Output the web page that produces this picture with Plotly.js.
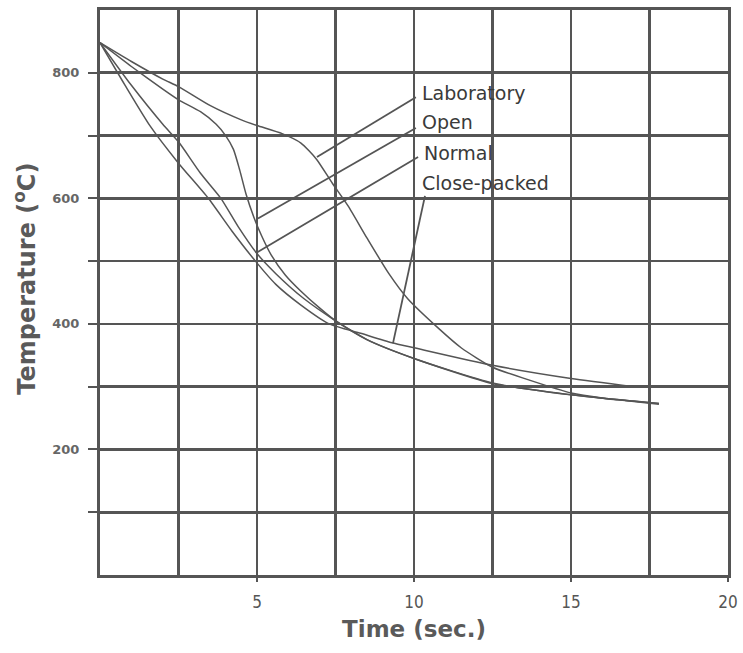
<!DOCTYPE html>
<html>
<head>
<meta charset="utf-8">
<script src="https://cdn.plot.ly/plotly-3.0.1.min.js"></script>
<style>html,body{margin:0;padding:0;background:#fff;}#chart{width:743px;height:653px;}</style>
</head>
<body>
<div id="chart"></div>
<script>
// Cooling curves: time (s) vs temperature (°C)
const labT = [0, 1, 2, 2.5, 3.5, 4.5, 5, 5.8, 6.4, 6.9, 7.4, 7.9, 8.5, 9.2, 9.8, 10.8, 11.5, 12.5, 13.7, 15, 16, 17, 17.8];
const labY = [848, 818, 790, 778, 748, 725, 716, 703, 688, 662, 624, 588, 537, 480, 440, 392, 362, 331, 310, 290, 282, 277, 273];

const openT = [0, 1, 2, 2.5, 3.2, 3.7, 4.0, 4.25, 4.45, 4.65, 4.9, 5.15, 5.45, 5.9, 6.4, 7, 7.5, 8.5, 10, 12.5, 15, 16.5, 17.8];
const openY = [848, 810, 774, 757, 738, 718, 700, 678, 645, 607, 570, 540, 510, 478, 452, 425, 405, 375, 345, 305, 287, 279, 272];

const normT = [0, 1, 2, 2.5, 3.2, 3.85, 4.4, 5, 5.6, 6.5, 7.5, 8.5, 10, 12.5, 15, 17.8];
const normY = [848, 780, 718, 690, 640, 600, 555, 512, 480, 440, 405, 375, 345, 306, 287, 273];

const closeT = [0, 0.8, 1.6, 2.5, 3.45, 4.2, 4.95, 5.6, 6.4, 7.3, 8.3, 9.3, 10, 12.5, 15, 17];
const closeY = [848, 780, 715, 656, 600, 548, 500, 463, 430, 400, 385, 370, 362, 334, 313, 300];

// Curve labels and leader lines
const labelNames = ["Laboratory", "Open", "Normal", "Close-packed"];
const labelX = [10.2, 10.2, 10.25, 10.2];
const labelY = [768, 721, 673, 624];
const leaderFromX = [10.06, 10.06, 10.13, 10.35];
const leaderFromY = [761, 712, 666, 604];
const leaderToX = [6.91, 5.03, 4.97, 9.33];
const leaderToY = [666, 568, 513, 369];

const xTicks = [5, 10, 15, 20];
const yTicks = [200, 400, 600, 800];
const yMinor = [100, 300, 500, 700];
const xMinor = [2.5, 7.5, 12.5, 17.5];

const ink = '#555';
const lineStyle = {color: ink, width: 1.5, shape: 'spline', smoothing: 0.6};

const traces = [
  {x: labT, y: labY, mode: 'lines', line: lineStyle, name: 'Laboratory'},
  {x: openT, y: openY, mode: 'lines', line: lineStyle, name: 'Open'},
  {x: normT, y: normY, mode: 'lines', line: lineStyle, name: 'Normal'},
  {x: closeT, y: closeY, mode: 'lines', line: lineStyle, name: 'Close-packed'}
];

const shapes = labelNames.map((n, i) => ({
  type: 'line', xref: 'x', yref: 'y',
  x0: leaderFromX[i], y0: leaderFromY[i], x1: leaderToX[i], y1: leaderToY[i],
  line: {color: ink, width: 1.8}
}));

const annotations = labelNames.map((n, i) => ({
  x: labelX[i], y: labelY[i], xref: 'x', yref: 'y', text: n, showarrow: false,
  xanchor: 'left', yanchor: 'middle',
  font: {family: 'DejaVu Sans', size: 19, color: '#3a3a3a'}
}));
// Y-axis title placed as rotated text
annotations.push({
  xref: 'paper', yref: 'paper', x: -0.119, y: 0.525, xanchor: 'center', yanchor: 'middle',
  textangle: -90, showarrow: false,
  text: 'Temperature (<sup>o</sup>C)',
  font: {family: 'DejaVu Sans', size: 24, weight: 'bold', color: '#5a5a5a'}
});

const gridW = 2.6;
const layout = {
  width: 743, height: 653,
  margin: {l: 100, r: 15, t: 10, b: 78},
  paper_bgcolor: '#fff', plot_bgcolor: '#fff',
  showlegend: false,
  xaxis: {
    range: [0, 20], tickvals: xTicks, ticktext: xTicks.map(String),
    showgrid: true, gridcolor: ink, gridwidth: gridW,
    minor: {tickvals: xMinor, showgrid: true, gridcolor: ink, gridwidth: gridW, ticks: ''},
    ticks: 'outside', ticklen: 4, tickwidth: 2, tickcolor: ink,
    ticklabelstandoff: 6,
    showline: true, mirror: true, linecolor: ink, linewidth: 3,
    zeroline: false,
    tickfont: {family: 'DejaVu Sans Condensed, DejaVu Sans', size: 17, color: '#555'},
    title: {text: 'Time (sec.)', font: {family: 'DejaVu Sans', size: 23, weight: 'bold', color: '#5a5a5a'}, standoff: 10}
  },
  yaxis: {
    range: [0, 900], tickvals: yTicks, ticktext: yTicks.map(String),
    showgrid: true, gridcolor: ink, gridwidth: gridW,
    minor: {tickvals: yMinor, showgrid: true, gridcolor: ink, gridwidth: gridW, ticks: 'outside', ticklen: 9, tickwidth: 2, tickcolor: ink},
    ticks: 'outside', ticklen: 9, tickwidth: 2, tickcolor: ink,
    ticklabelstandoff: 6,
    showline: true, mirror: true, linecolor: ink, linewidth: 3,
    zeroline: false,
    tickfont: {family: 'DejaVu Sans', size: 13, weight: 'bold', color: '#666'}
  },
  shapes: shapes,
  annotations: annotations
};

Plotly.newPlot('chart', traces, layout, {displayModeBar: false, staticPlot: true});
</script>
</body>
</html>
